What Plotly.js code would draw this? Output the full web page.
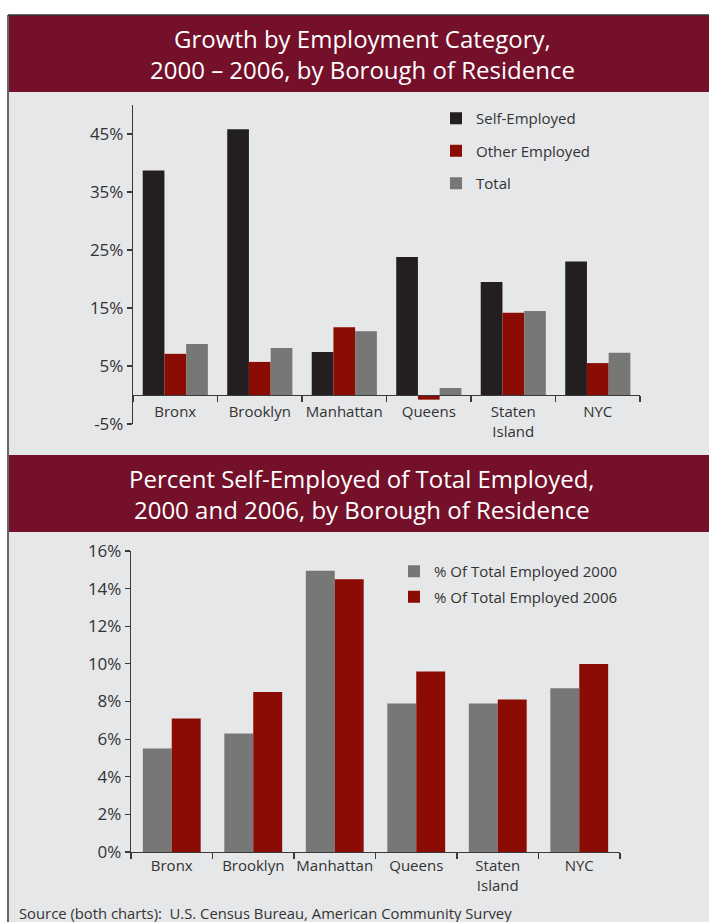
<!DOCTYPE html>
<html>
<head>
<meta charset="utf-8">
<script src="https://cdn.plot.ly/plotly-3.0.1.min.js"></script>
<style>
html,body{margin:0;padding:0;background:#fff;}
#chart{width:709px;height:922px;}
</style>
</head>
<body>
<div id="chart"></div>
<script>
// ---- Data ----
const boroughs = ['Bronx', 'Brooklyn', 'Manhattan', 'Queens', 'Staten<br>Island', 'NYC'];
const selfEmployedGrowth = [38.7, 45.8, 7.4, 23.8, 19.5, 23.0];
const otherEmployedGrowth = [7.1, 5.7, 11.7, -0.8, 14.2, 5.5];
const totalGrowth = [8.8, 8.1, 11.0, 1.2, 14.5, 7.3];
const pctSelfEmployed2000 = [5.5, 6.3, 14.95, 7.9, 7.9, 8.7];
const pctSelfEmployed2006 = [7.1, 8.5, 14.5, 9.6, 8.1, 10.0];
const growthTicks = [-5, 5, 15, 25, 35, 45];
const shareTicks = [0, 2, 4, 6, 8, 10, 12, 14, 16];

// ---- Layout helpers (pixels -> paper) ----
const W = 709, H = 922;
const px = x => x / W;
const py = y => 1 - y / H;

const MAROON = '#74102a';
const BG = '#e6e7e9';
const DARK = '#231f20';
const RED = '#8b0c04';
const GRAY = '#777776';
const TXT = '#333333';
const FONT = 'Open Sans, Noto Sans, sans-serif';

const traces = [
  {type: 'bar', name: 'Self-Employed', x: boroughs, y: selfEmployedGrowth,
   xaxis: 'x', yaxis: 'y', marker: {color: DARK}, width: 0.257, offset: -0.385,
   legend: 'legend', legendgroup: 'a'},
  {type: 'bar', name: 'Other Employed', x: boroughs, y: otherEmployedGrowth,
   xaxis: 'x', yaxis: 'y', marker: {color: RED}, width: 0.257, offset: -0.128,
   legend: 'legend', legendgroup: 'b'},
  {type: 'bar', name: 'Total', x: boroughs, y: totalGrowth,
   xaxis: 'x', yaxis: 'y', marker: {color: GRAY}, width: 0.257, offset: 0.129,
   legend: 'legend', legendgroup: 'c'},
  {type: 'bar', name: '% Of Total Employed 2000', x: boroughs, y: pctSelfEmployed2000,
   xaxis: 'x2', yaxis: 'y2', marker: {color: GRAY}, width: 0.355, offset: -0.355,
   legend: 'legend2', legendgroup: 'd'},
  {type: 'bar', name: '% Of Total Employed 2006', x: boroughs, y: pctSelfEmployed2006,
   xaxis: 'x2', yaxis: 'y2', marker: {color: RED}, width: 0.355, offset: 0,
   legend: 'legend2', legendgroup: 'e'}
];

function axisStyle(extra, fsize) {
  return Object.assign({
    showline: true, linecolor: '#3a3a3a', linewidth: 1.2,
    ticks: 'outside', tickcolor: '#3a3a3a', tickwidth: 1.2,
    showgrid: false, zeroline: false, fixedrange: true,
    tickfont: {family: FONT, size: fsize || 15, color: TXT}
  }, extra);
}

const layout = {
  width: W, height: H,
  margin: {l: 0, r: 0, t: 0, b: 0},
  paper_bgcolor: '#ffffff',
  plot_bgcolor: 'rgba(0,0,0,0)',
  barmode: 'overlay',
  showlegend: true,
  font: {family: FONT, size: 15, color: TXT},
  xaxis: axisStyle({
    domain: [px(133), px(640)], anchor: 'free', position: py(395),
    type: 'category', tickson: 'boundaries', ticklen: 6, tickangle: 0,
    ticklabelstandoff: 3
  }),
  yaxis: axisStyle({
    domain: [py(424), py(105)], anchor: 'x', range: [-5, 50],
    tickmode: 'array', tickvals: growthTicks, ticktext: growthTicks.map(v => v + '%'),
    ticklen: 5, tickangle: 0
  }, 17),
  xaxis2: axisStyle({
    domain: [px(131), px(620)], anchor: 'y2',
    type: 'category', tickson: 'boundaries', ticklen: 6, tickangle: 0
  }),
  yaxis2: axisStyle({
    domain: [py(852), py(551)], anchor: 'x2', range: [0, 16],
    tickmode: 'array', tickvals: shareTicks, ticktext: shareTicks.map(v => v + '%'),
    ticklen: 5, tickangle: 0
  }, 17),
  legend: {
    x: px(436), y: py(102), xanchor: 'left', yanchor: 'top',
    bgcolor: 'rgba(0,0,0,0)', font: {family: FONT, size: 15, color: TXT},
    tracegroupgap: 10, traceorder: 'grouped'
  },
  legend2: {
    x: px(394), y: py(555), xanchor: 'left', yanchor: 'top',
    bgcolor: 'rgba(0,0,0,0)', font: {family: FONT, size: 15, color: TXT},
    tracegroupgap: 3, traceorder: 'grouped'
  },
  shapes: [
    {type: 'rect', xref: 'paper', yref: 'paper', x0: px(9), x1: 1, y0: py(455), y1: py(92),
     fillcolor: BG, line: {width: 0}, layer: 'below'},
    {type: 'rect', xref: 'paper', yref: 'paper', x0: px(9), x1: 1, y0: py(92), y1: py(15),
     fillcolor: MAROON, line: {width: 0}, layer: 'below'},
    {type: 'rect', xref: 'paper', yref: 'paper', x0: px(9), x1: 1, y0: py(532), y1: py(455),
     fillcolor: MAROON, line: {width: 0}, layer: 'below'},
    {type: 'rect', xref: 'paper', yref: 'paper', x0: px(9), x1: 1, y0: 0, y1: py(532),
     fillcolor: BG, line: {width: 0}, layer: 'below'},
    {type: 'line', xref: 'paper', yref: 'paper', x0: px(8), x1: px(8), y0: 0, y1: py(15),
     line: {color: '#333', width: 1.5}, layer: 'below'},
    {type: 'line', xref: 'paper', yref: 'paper', x0: px(8), x1: 1, y0: py(15), y1: py(15),
     line: {color: '#333', width: 1.5}, layer: 'below'}
  ],
  annotations: [
    {xref: 'paper', yref: 'paper', x: px(362), y: py(54), xanchor: 'center', yanchor: 'middle',
     text: 'Growth by Employment Category,<br>2000 – 2006, by Borough of Residence',
     showarrow: false, font: {family: FONT, size: 24, color: '#ffffff'}},
    {xref: 'paper', yref: 'paper', x: px(362), y: py(494), xanchor: 'center', yanchor: 'middle',
     text: 'Percent Self-Employed of Total Employed,<br>2000 and 2006, by Borough of Residence',
     showarrow: false, font: {family: FONT, size: 24, color: '#ffffff'}},
    {xref: 'paper', yref: 'paper', x: px(17), y: py(913), xanchor: 'left', yanchor: 'middle',
     text: 'Source (both charts):  U.S. Census Bureau, American Community Survey',
     showarrow: false, font: {family: FONT, size: 14.8, color: TXT}}
  ]
};

Plotly.newPlot('chart', traces, layout, {displayModeBar: false, staticPlot: true});
</script>
</body>
</html>
